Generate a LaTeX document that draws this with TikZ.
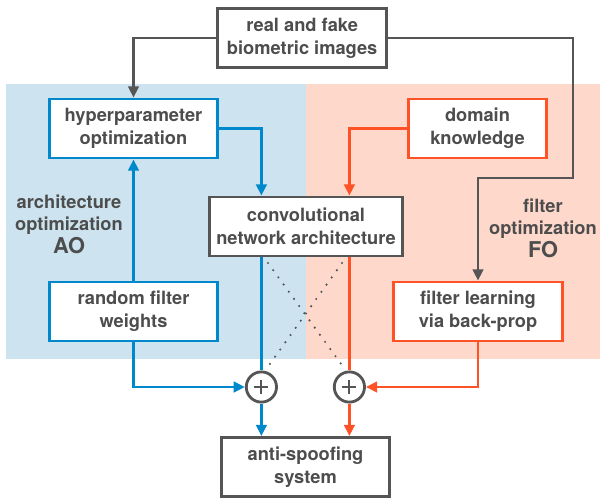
\documentclass[tikz,border=0pt]{standalone}
\usepackage{fontspec}
\setmainfont{TeX Gyre Heros}
\usetikzlibrary{arrows.meta}
\definecolor{aoblue}{HTML}{0088CC}
\definecolor{foorange}{HTML}{FF5226}
\definecolor{boxgray}{HTML}{555555}
\definecolor{textgray}{HTML}{4D4D4D}
\definecolor{aoshade}{HTML}{CDE4F0}
\definecolor{foshade}{HTML}{FDD8CB}
\pgfdeclarelayer{bglayer}
\pgfdeclarelayer{edgelayer}
\pgfdeclarelayer{nodelayer}
\pgfsetlayers{bglayer,edgelayer,nodelayer,main}
\tikzstyle{none} = []
\tikzstyle{box} = [draw=boxgray, fill=white, line width=2pt, minimum width=120pt, minimum height=42pt, align=center, inner sep=2pt, text=textgray, font=\fontsize{13}{16.5}\selectfont\bfseries]
\tikzstyle{blue box} = [box, draw=aoblue]
\tikzstyle{orange box} = [box, draw=foorange]
\tikzstyle{sum} = [circle, draw=boxgray, fill=white, line width=2pt, minimum size=21.5pt, inner sep=0pt,
	path picture={\draw [boxgray, line width=1.3pt] ([xshift=-5pt]path picture bounding box.center) -- ([xshift=5pt]path picture bounding box.center)
		([yshift=-5pt]path picture bounding box.center) -- ([yshift=5pt]path picture bounding box.center);}]
\tikzstyle{side text} = [align=center, text=textgray, font=\fontsize{13}{16}\selectfont\bfseries]
\tikzstyle{gray edge} = [draw=boxgray, line width=2pt, -{Triangle[length=8pt,width=7.5pt]}]
\tikzstyle{blue edge} = [gray edge, draw=aoblue, -{Triangle[length=8pt,width=7.5pt]}]
\tikzstyle{orange edge} = [gray edge, draw=foorange, -{Triangle[length=8pt,width=7.5pt]}]
\tikzstyle{dots} = [draw=boxgray, line width=1.7pt, line cap=round, dash pattern=on 0pt off 6.3pt]

\begin{document}
\begin{tikzpicture}[scale = 0.5]
	\useasboundingbox (0, 0) rectangle (30, -24.95);
	\begin{pgfonlayer}{bglayer}
		\fill [aoshade] (0.285, -4.2) rectangle (15.3, -17.95);
		\fill [foshade] (15.3, -4.2) rectangle (30, -17.95);
	\end{pgfonlayer}
	\begin{pgfonlayer}{nodelayer}
		\node [style=box] (0) at (15.11, -1.9) {real and fake\\biometric images};
		\node [style=blue box, minimum width=119.5pt] (1) at (6.675, -6.425) {hyperparameter\\optimization};
		\node [style=orange box, minimum width=98pt] (2) at (23.875, -6.425) {domain\\knowledge};
		\node [style=box, minimum width=137pt] (3) at (15.3, -11.325) {convolutional\\network architecture};
		\node [style=blue box, minimum width=119.5pt] (4) at (6.675, -15.575) {random filter\\weights};
		\node [style=orange box] (5) at (23.9, -15.575) {filter learning\\via back-prop};
		\node [style=sum] (6) at (13.07, -19.35) {};
		\node [style=sum] (7) at (17.47, -19.35) {};
		\node [style=box, minimum width=119.5pt] (8) at (15.275, -23.35) {anti-spoofing\\system};
		\node [style=side text] (9) at (3.45, -11.2) {architecture\\optimization\\{\fontsize{15.5}{16}\selectfont AO}};
		\node [style=side text] (10) at (27.15, -11.4) {filter\\optimization\\{\fontsize{15.5}{16}\selectfont FO}};
		\coordinate (11) at (28.65, -8.9);
		\coordinate (12) at (13.4, -13.15);
		\coordinate (13) at (17.2, -18.4);
		\coordinate (14) at (17.1, -13.15);
		\coordinate (15) at (13.35, -18.4);
	\end{pgfonlayer}
	\begin{pgfonlayer}{edgelayer}
		\draw [style=gray edge] (0.west) -| (1);
		\draw [style=gray edge] (0.east) -| (11) -| (5);
		\draw [style=blue edge] (1.east) -| (3.north -| 6);
		\draw [style=orange edge] (2.west) -| (3.north -| 7);
		\draw [style=blue edge] (4) -- (1);
		\draw [style=blue edge, -] (3.south -| 6) -- (6);
		\draw [style=orange edge, -] (3.south -| 7) -- (7);
		\draw [style=dots] (12) -- (13);
		\draw [style=dots] (14) -- (15);
		\draw [style=blue edge] (4) |- (6);
		\draw [style=orange edge] (5) |- (7);
		\draw [style=blue edge] (6) -- (8.north -| 6);
		\draw [style=orange edge] (7) -- (8.north -| 7);
	\end{pgfonlayer}
\end{tikzpicture}
\end{document}
